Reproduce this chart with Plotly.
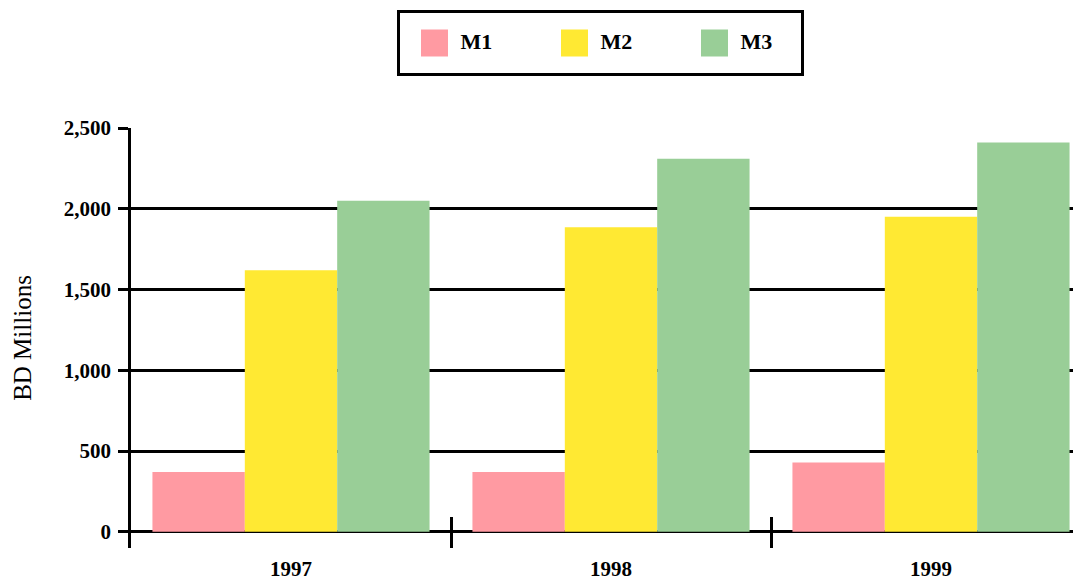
import plotly.graph_objects as go

categories = ["1997", "1998", "1999"]
series_names = ["M1", "M2", "M3"]
m1_values = [370, 370, 430]
m2_values = [1620, 1885, 1950]
m3_values = [2050, 2310, 2410]
series_colors = ["#FF9AA2", "#FFE933", "#99CE97"]
y_tick_values = [0, 500, 1000, 1500, 2000, 2500]
y_tick_labels = ["0", "500", "1,000", "1,500", "2,000", "2,500"]

OFF = 8  # page body margin offset
W, H = 1081 - OFF, 581 - OFF
FONT = "Liberation Serif"

fig = go.Figure()
for name, vals, col in zip(series_names, [m1_values, m2_values, m3_values], series_colors):
    fig.add_trace(go.Bar(x=categories, y=vals, name=name, marker=dict(color=col, line=dict(width=0)),
                         showlegend=False, xaxis="x", yaxis="y"))

# legend drawn on its own small axes
idx = list(range(len(series_names)))
fig.add_trace(go.Scatter(
    x=idx, y=[0] * len(series_names), mode="markers",
    marker=dict(symbol="square", size=27, color=series_colors, line=dict(width=0)),
    showlegend=False, hoverinfo="skip", xaxis="x3", yaxis="y3"))
fig.add_trace(go.Scatter(
    x=[i + 0.185 for i in idx], y=[0] * len(series_names), mode="text",
    text=series_names, textposition="middle right",
    textfont=dict(family=FONT, size=22, color="black", weight="bold"),
    showlegend=False, hoverinfo="skip", xaxis="x3", yaxis="y3"))

bottom = 581 - 548
paper_h = H - bottom
left_px = 131 - OFF
fig.update_layout(
    width=W, height=H,
    template="none",
    paper_bgcolor="white", plot_bgcolor="rgba(0,0,0,0)",
    margin=dict(l=0, r=0, t=0, b=bottom, pad=0),
    barmode="group", bargap=0.134, bargroupgap=0,
    showlegend=False,
    font=dict(family=FONT, color="black"),
    xaxis=dict(
        type="category", domain=[left_px / W, 1], anchor="y",
        range=[-0.5, -0.5 + (W - left_px) / 320],
        tickson="boundaries", ticks="inside", ticklen=31, tickwidth=2.5, tickcolor="black",
        showline=False, showgrid=False, zeroline=False,
        tickfont=dict(family=FONT, size=21, color="black", weight="bold"),
        ticklabelstandoff=6, automargin=False,
    ),
    yaxis=dict(
        domain=[0, 1 - (128 - OFF) / paper_h], anchor="x",
        range=[-100, 2500],
        tickmode="array", tickvals=y_tick_values, ticktext=y_tick_labels,
        ticks="outside", ticklen=10, tickwidth=2.5, tickcolor="black",
        showgrid=True, gridcolor="black", gridwidth=2.5,
        zeroline=True, zerolinecolor="black", zerolinewidth=2.5,
        showline=True, linecolor="black", linewidth=2.5,
        tickfont=dict(family=FONT, size=21, color="black", weight="bold"),
        ticklabelstandoff=3, automargin=False,
        title=dict(text="BD Millions", font=dict(family=FONT, size=25, color="black"), standoff=26),
    ),
    xaxis3=dict(
        domain=[(400 - OFF) / W, (801 - OFF) / W], anchor="y3",
        range=[-34.5 / 140, (401 - 34.5) / 140],
        showgrid=False, zeroline=False, showticklabels=False, ticks="",
        showline=True, mirror=True, linecolor="black", linewidth=3, automargin=False, fixedrange=True,
    ),
    yaxis3=dict(
        domain=[1 - (73 - OFF) / paper_h, 1 - (13 - OFF) / paper_h], anchor="x3",
        range=[-1, 1],
        showgrid=False, zeroline=False, showticklabels=False, ticks="",
        showline=True, mirror=True, linecolor="black", linewidth=3, automargin=False, fixedrange=True,
    ),
)

fig.write_html("out.html", config={"displayModeBar": False})
